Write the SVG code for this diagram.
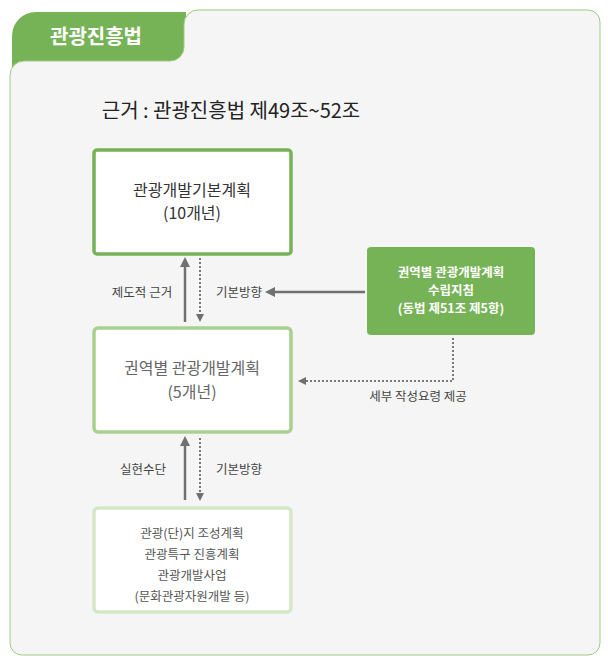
<svg xmlns="http://www.w3.org/2000/svg" width="608" height="668" viewBox="0 0 608 668">
<style>
text{font-family:"Noto Sans CJK KR","Noto Sans",sans-serif;text-anchor:middle}
.lbl{font-size:12.5px;fill:#444}
.solid{stroke:#707070;stroke-width:2.5;fill:none}
.dot{stroke:#777;stroke-width:2;stroke-dasharray:2 2;fill:none}
</style>
<defs>
<marker id="ah" viewBox="0 0 10 10" refX="5" refY="5" markerWidth="4" markerHeight="4" orient="auto-start-reverse"><path d="M0,0L10,5L0,10z" fill="#707070"/></marker>
</defs>
<rect x="0" y="0" width="608" height="668" fill="#fff"/>
<path d="M12,36a24,24 0 0 1 24,-24H186V80H12z" fill="#76b356"/>
<path d="M10,75a14,14 0 0 1 14,-14H170a14,14 0 0 0 14,-14V24a14,14 0 0 1 14,-14H588a12,12 0 0 1 12,12V643a12,12 0 0 1 -12,12H22a12,12 0 0 1 -12,-12Z" fill="#f5f5f5" stroke="#9fcb80"/>
<text x="96" y="44" style="font-size:20px;font-weight:bold;fill:#fff">관광진흥법</text>
<text x="231" y="118" style="font-size:20px;fill:#222">근거 : 관광진흥법 제49조~52조</text>
<g id="connectors">
<line x1="185" y1="322" x2="185" y2="262" class="solid" marker-end="url(#ah)"/>
<line x1="200" y1="258" x2="200" y2="318" class="dot" marker-end="url(#ah)"/>
<line x1="365" y1="292" x2="270" y2="292" class="solid" marker-end="url(#ah)"/>
<path d="M453,338V381H302" class="dot" marker-end="url(#ah)"/>
<line x1="185" y1="500" x2="185" y2="441" class="solid" marker-end="url(#ah)"/>
<line x1="200" y1="438" x2="200" y2="497" class="dot" marker-end="url(#ah)"/>
<text x="142" y="297" class="lbl">제도적 근거</text>
<text x="239" y="297" class="lbl">기본방향</text>
<text x="143" y="474" class="lbl">실현수단</text>
<text x="239" y="474" class="lbl">기본방향</text>
<text x="418" y="401" class="lbl">세부 작성요령 제공</text>
</g>
<g id="n1"><rect x="94" y="150" width="197" height="104" rx="3" fill="#fff" stroke="#76b356" stroke-width="3.5"/>
<text x="192" y="196" style="font-size:16px;fill:#333">관광개발기본계획</text><text x="192" y="219" style="font-size:16px;fill:#333">(10개년)</text></g>
<g id="n2"><rect x="367" y="247" width="168" height="88" rx="4" fill="#76b356"/>
<text x="451" y="277" style="font-size:12.5px;fill:#fff;font-weight:bold">권역별 관광개발계획</text><text x="451" y="295" style="font-size:12.5px;fill:#fff;font-weight:bold">수립지침</text><text x="451" y="313" style="font-size:12.5px;fill:#fff;font-weight:bold">(동법 제51조 제5항)</text></g>
<g id="n3"><rect x="94" y="328" width="197" height="104" rx="4" fill="#fff" stroke="#a9d08e" stroke-width="3.5"/>
<text x="192" y="374" style="font-size:16px;fill:#666">권역별 관광개발계획</text><text x="192" y="398" style="font-size:16px;fill:#666">(5개년)</text></g>
<g id="n4"><rect x="94" y="508" width="197" height="104" rx="4" fill="#fff" stroke="#d6e7c8" stroke-width="3.5"/>
<text x="192" y="538" style="font-size:12.5px;fill:#555">관광(단)지 조성계획</text><text x="192" y="559" style="font-size:12.5px;fill:#555">관광특구 진흥계획</text><text x="192" y="580" style="font-size:12.5px;fill:#555">관광개발사업</text><text x="192" y="601" style="font-size:12.5px;fill:#555">(문화관광자원개발 등)</text></g>
</svg>
